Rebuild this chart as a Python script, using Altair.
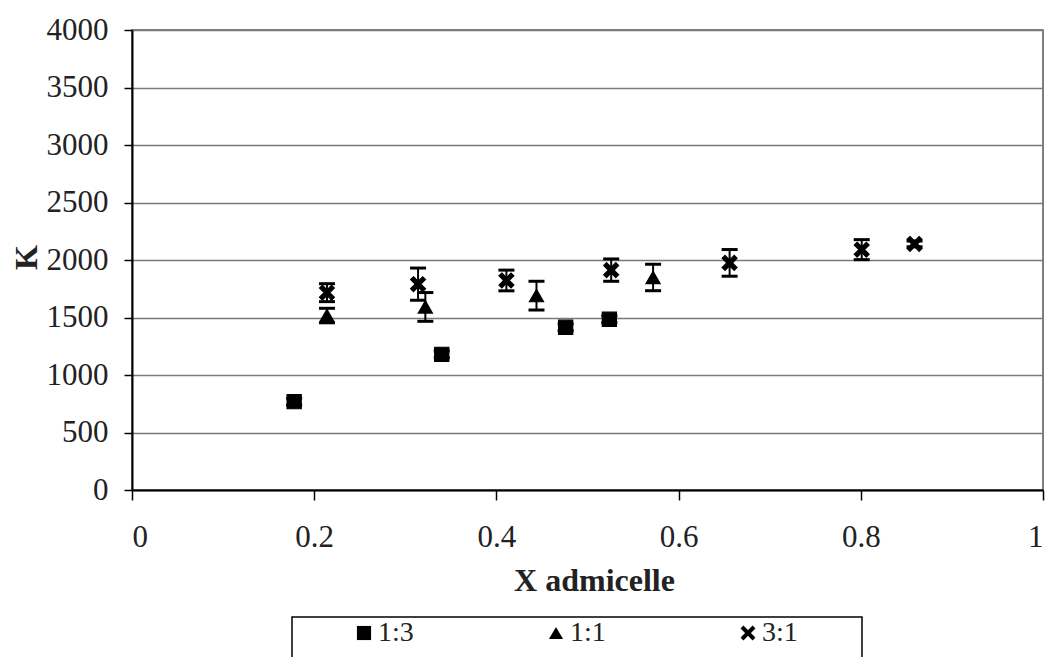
import altair as alt
import pandas as pd

# ---- data ----
series_names = ["1:3", "1:1", "3:1"]

x_13 = [0.178, 0.340, 0.476, 0.524]
k_13 = [768, 1180, 1415, 1485]
err_13 = [30, 30, 30, 30]

x_11 = [0.214, 0.322, 0.444, 0.572]
k_11 = [1517, 1592, 1690, 1848]
err_11 = [63, 125, 125, 115]

x_31 = [0.214, 0.314, 0.411, 0.526, 0.656, 0.801, 0.859]
k_31 = [1716, 1790, 1822, 1912, 1975, 2090, 2140]
err_31 = [78, 140, 90, 97, 116, 87, 25]

x_ticks = [0, 0.2, 0.4, 0.6, 0.8, 1]
y_ticks = [0, 500, 1000, 1500, 2000, 2500, 3000, 3500, 4000]

rows = []
for name, xs, ks, es in [("1:3", x_13, k_13, err_13),
                         ("1:1", x_11, k_11, err_11),
                         ("3:1", x_31, k_31, err_31)]:
    for xv, kv, ev in zip(xs, ks, es):
        rows.append({"series": name, "x": xv, "k": kv, "err": ev})
df = pd.DataFrame(rows)

FONT = "Liberation Serif"
TXT = "#222222"

x_scale = alt.Scale(domain=[0, 1], nice=False, zero=True)
y_scale = alt.Scale(domain=[0, 4000], nice=False, zero=True)

x_axis = alt.Axis(values=x_ticks, format="~g", title="X admicelle", grid=False,
                  tickSize=10, labelPadding=22, titleX=462, titleY=100,
                  titleAlign="center", titleBaseline="alphabetic")
y_axis = alt.Axis(values=y_ticks, format="d", title="K", grid=True,
                  tickSize=8, labelPadding=16, titleX=-106, titleY=227,
                  titleAngle=270, titleAlign="center", titleBaseline="middle")

base = alt.Chart(df).transform_calculate(
    lo="datum.k - datum.err", hi="datum.k + datum.err"
)

X = alt.X("x:Q", scale=x_scale, axis=x_axis)

rules = base.mark_rule(color="black", strokeWidth=2).encode(
    x=X, y=alt.Y("lo:Q", scale=y_scale, axis=y_axis), y2="hi:Q",
)
caps_lo = base.mark_tick(orient="horizontal", color="black", size=16,
                         thickness=3, opacity=1).encode(
    x=X, y=alt.Y("lo:Q", scale=y_scale, axis=y_axis),
)
caps_hi = base.mark_tick(orient="horizontal", color="black", size=16,
                         thickness=3, opacity=1).encode(
    x=X, y=alt.Y("hi:Q", scale=y_scale, axis=y_axis),
)

# filled "x" glyph (two crossed bars) so that it also shows in the legend
X_GLYPH = ("M-0.65,-1.05L1.05,0.65L0.65,1.05L-1.05,-0.65Z"
           "M-1.05,0.65L0.65,-1.05L1.05,-0.65L-0.65,1.05Z")
shape_scale = alt.Scale(domain=series_names,
                        range=["square", "triangle-up", X_GLYPH])

legend = alt.Legend(
    title=None,
    orient="none", legendX=215, legendY=586, direction="horizontal",
    labelFont=FONT, labelFontSize=28, labelColor=TXT, labelOffset=0,
    columnPadding=128, symbolSize=200, symbolFillColor="black",
    symbolStrokeColor="black", symbolStrokeWidth=0.5, padding=3,
)

points = base.mark_point(
    filled=True, color="black", stroke="black", strokeWidth=1.2, size=200, opacity=1
).encode(
    x=X, y=alt.Y("k:Q", scale=y_scale, axis=y_axis),
    shape=alt.Shape("series:N", scale=shape_scale, legend=legend),
)

# frame drawn around the legend (decoration, not data)
legend_box = alt.Chart(pd.DataFrame({"box": [0]})).mark_rect(
    fillOpacity=0, stroke="black", strokeWidth=1.5
).encode(
    x=alt.value(160), x2=alt.value(730), y=alt.value(587), y2=alt.value(690)
)

chart = alt.layer(legend_box, rules, caps_lo, caps_hi, points).properties(
    width=911, height=460,
    padding={"left": 132, "top": 30, "right": 2, "bottom": 167},
    autosize=alt.AutoSizeParams(type="none"),
    background="white",
).configure_view(
    stroke="#555555", strokeWidth=1.5
).configure_axis(
    labelFont=FONT, labelFontSize=31, labelColor=TXT,
    titleFont=FONT, titleFontSize=32, titleFontWeight="bold", titleColor=TXT,
    domainColor="black", domainWidth=2, tickColor="black", tickWidth=1.5,
    gridColor="#7a7a7a", gridWidth=1.5,
)

chart.save("out.html", embed_options={"renderer": "svg", "actions": False})
